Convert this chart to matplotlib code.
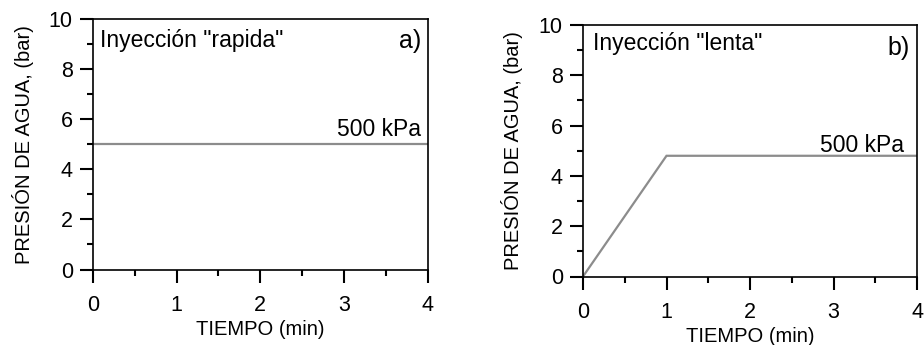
import matplotlib
matplotlib.use("Agg")
import matplotlib.pyplot as plt
from matplotlib.ticker import MultipleLocator

plt.rcParams['font.family'] = ['Liberation Sans', 'DejaVu Sans']

# Data
t_rapida = [0, 4]
p_rapida = [5.0, 5.0]
t_lenta = [0, 1, 4]
p_lenta = [0.0, 4.8, 4.8]
xticks = [0, 1, 2, 3, 4]
yticks = [0, 2, 4, 6, 8, 10]
titles = ['Inyección "rapida"', 'Inyección "lenta"']
panel = ['a)', 'b)']
label_val = '500 kPa'

fig = plt.figure(figsize=(9.24, 3.45), dpi=100)
ax1 = fig.add_axes([93/924, 1-269.5/345, 334.5/924, 250.5/345])
ax2 = fig.add_axes([583/924, 1-276.5/345, 334/924, 251.5/345])

line_color = '#8c8c8c'
fs_tick = 15.5
fs_lab = 14.5
fs_txt = 16.5
fs_pan = 18

for ax, t, p, title, pl, tx, ty, lx, ly, px, py, ylp in [
    (ax1, t_rapida, p_rapida, titles[0], panel[0], 0.08, 8.89, 3.92, 5.33, 3.92, 8.84, 11),
    (ax2, t_lenta, p_lenta, titles[1], panel[1], 0.12, 9.0, 3.84, 4.96, 3.91, 8.81, 11.5),
]:
    ax.plot(t, p, color=line_color, lw=1.6, solid_joinstyle='miter')
    ax.set_xlim(0, 4)
    ax.set_ylim(0, 10)
    ax.set_xticks(xticks)
    ax.set_yticks(yticks)
    ax.xaxis.set_minor_locator(MultipleLocator(0.5))
    ax.yaxis.set_minor_locator(MultipleLocator(1))
    ax.tick_params(which='major', direction='out', length=9.5, width=1.5,
                   labelsize=fs_tick)
    ax.tick_params(axis='x', which='major', pad=9)
    ax.tick_params(axis='y', which='major', pad=5)
    ax.tick_params(which='minor', direction='out', length=4, width=1.5)
    for s in ax.spines.values():
        s.set_linewidth(1.2)
    ax.set_xlabel('TIEMPO (min)', fontsize=fs_lab, labelpad=3)
    ax.set_ylabel('PRESIÓN DE AGUA, (bar)', fontsize=fs_lab, labelpad=ylp)
    ax.text(tx, ty, title, fontsize=fs_txt, ha='left', va='baseline')
    ax.text(px, py, pl, fontsize=fs_pan, ha='right', va='baseline')
    ax.text(lx, ly, label_val, fontsize=fs_txt, ha='right', va='baseline')

fig.savefig('out.png', dpi=100)
